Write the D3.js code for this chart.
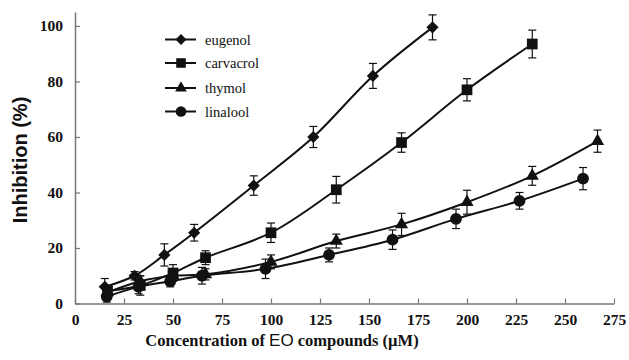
<!DOCTYPE html>
<html><head><meta charset="utf-8">
<script src="https://cdn.jsdelivr.net/npm/d3@7"></script>
<style>body{margin:0;background:#fff}
.sf{font-family:"Liberation Serif","Times New Roman",serif}
</style>
</head><body>
<svg id="c" width="629" height="360"></svg>
<script>
const eugenolX = [15.2, 30.4, 45.6, 60.8, 91.2, 121.6, 152, 182.4];
const eugenolY = [6, 10, 17.5, 25.5, 42.5, 60, 82, 99.5];
const eugenolE = [3, 1.5, 4, 3, 3.5, 3.8, 4.5, 4.5];
const carvacrolX = [16.6, 33.3, 50, 66.6, 100, 133.3, 166.6, 200, 233.3];
const carvacrolY = [4.5, 6.5, 11, 16.5, 25.5, 41, 58, 77, 93.5];
const carvacrolE = [2, 3.5, 3, 2.5, 3.5, 4.8, 3.5, 4, 5];
const thymolX = [16.6, 33.3, 50, 66.6, 100, 133.3, 166.6, 200, 233.3, 266.6];
const thymolY = [4, 8, 10, 10.5, 15, 22.5, 28.5, 36.5, 46, 58.5];
const thymolE = [2, 2, 2, 2, 2.5, 2.5, 4, 4.3, 3.4, 4];
const linaloolX = [16.2, 32.4, 48.6, 64.8, 97.2, 129.6, 162, 194.4, 226.8, 259.2];
const linaloolY = [2.5, 6, 8, 10, 12.5, 17.5, 23, 30.5, 37, 45];
const linaloolE = [2, 2.5, 2, 3, 3.5, 2.5, 3.5, 3.5, 3, 4];
const seriesNames = ["eugenol", "carvacrol", "thymol", "linalool"];
const xTicks = [0, 25, 50, 75, 100, 125, 150, 175, 200, 225, 250, 275];
const yTicks = [0, 20, 40, 60, 80, 100];
const xTitle = "Concentration of ";
const xTitle2 = "EO";
const xTitle3 = " compounds (µM)";
const yTitle = "Inhibition (%)";

const series = [
  {name: seriesNames[0], xs: eugenolX, ys: eugenolY, es: eugenolE, sym: d3.symbolDiamond2, size: 95},
  {name: seriesNames[1], xs: carvacrolX, ys: carvacrolY, es: carvacrolE, sym: d3.symbolSquare, size: 115},
  {name: seriesNames[2], xs: thymolX, ys: thymolY, es: thymolE, sym: d3.symbolTriangle, size: 75},
  {name: seriesNames[3], xs: linaloolX, ys: linaloolY, es: linaloolE, sym: d3.symbolCircle, size: 110}
];

const svg = d3.select("#c");
const x = d3.scaleLinear().domain([0, 275]).range([75, 614]);
const y = d3.scaleLinear().domain([0, 105]).range([303.5, 12.1]);
const axisColor = "#777";
const sans = "'Liberation Sans',Arial,sans-serif";

const ya = svg.append("g").attr("transform", `translate(${x(0)},0)`)
  .call(d3.axisLeft(y).tickValues(yTicks).tickSize(-5).tickPadding(12).tickSizeOuter(0));
ya.attr("font-family", null);
ya.select(".domain").attr("stroke", axisColor).attr("stroke-width", 1.5);
ya.selectAll(".tick line").attr("stroke", axisColor).attr("stroke-width", 1.2);
ya.selectAll(".tick text").attr("class", "sf").attr("font-weight", "bold")
  .attr("font-size", 15.5).attr("fill", "#111");

const xa = svg.append("g").attr("transform", `translate(0,${y(0)})`)
  .call(d3.axisBottom(x).tickValues(xTicks).tickSize(-5).tickPadding(10).tickSizeOuter(0));
xa.attr("font-family", null);
xa.select(".domain").attr("stroke", axisColor).attr("stroke-width", 1.5);
xa.selectAll(".tick line").attr("stroke", axisColor).attr("stroke-width", 1.2);
xa.selectAll(".tick text").attr("class", "sf").attr("font-weight", "bold")
  .attr("font-size", 15.5).attr("fill", "#111");

const xt = svg.append("text").attr("class", "sf").attr("x", 282).attr("y", 346).attr("text-anchor", "middle")
  .attr("font-weight", "bold").attr("font-size", 16.5).attr("fill", "#111");
xt.append("tspan").text(xTitle);
xt.append("tspan").attr("style", `font-family:${sans}`).attr("font-weight", "normal").attr("font-size", 17).text(xTitle2);
xt.append("tspan").text(xTitle3);

svg.append("text").attr("transform", "translate(27,160) rotate(-90)").attr("text-anchor", "middle")
  .attr("style", `font-family:${sans}`).attr("font-weight", "bold").attr("font-size", 20).attr("fill", "#111")
  .text(yTitle);

const line = d3.line().curve(d3.curveCatmullRom.alpha(0.5)).x(d => x(d[0])).y(d => y(d[1]));
series.forEach(s => {
  const pts = s.xs.map((v, i) => [v, s.ys[i], s.es[i]]);
  const g = svg.append("g");
  g.append("path").attr("d", line(pts)).attr("fill", "none").attr("stroke", "#111").attr("stroke-width", 2);
  pts.forEach(p => {
    const cx = x(p[0]), y1 = y(p[1] + p[2]), y2 = y(p[1] - p[2]);
    g.append("line").attr("x1", cx).attr("x2", cx).attr("y1", y1).attr("y2", y2).attr("stroke", "#111").attr("stroke-width", 1.2);
    g.append("line").attr("x1", cx - 4).attr("x2", cx + 4).attr("y1", y1).attr("y2", y1).attr("stroke", "#111").attr("stroke-width", 1.2);
    g.append("line").attr("x1", cx - 4).attr("x2", cx + 4).attr("y1", y2).attr("y2", y2).attr("stroke", "#111").attr("stroke-width", 1.2);
  });
  g.selectAll("path.m").data(pts).join("path").attr("class", "m")
    .attr("d", d3.symbol().type(s.sym).size(s.size))
    .attr("transform", d => `translate(${x(d[0])},${y(d[1])})`).attr("fill", "#111");
});

const legY = [39.5, 63, 88, 111.5];
series.forEach((s, i) => {
  const g = svg.append("g").attr("transform", `translate(0,${legY[i]})`);
  g.append("line").attr("x1", 165).attr("x2", 196).attr("stroke", "#111").attr("stroke-width", 2);
  g.append("path").attr("d", d3.symbol().type(s.sym).size(s.size * 0.8)).attr("transform", "translate(181,0)").attr("fill", "#111");
  g.append("text").attr("class", "sf").attr("x", 205).attr("y", 5).attr("font-size", 14.5).attr("fill", "#111").text(s.name);
});
</script>
</body></html>
